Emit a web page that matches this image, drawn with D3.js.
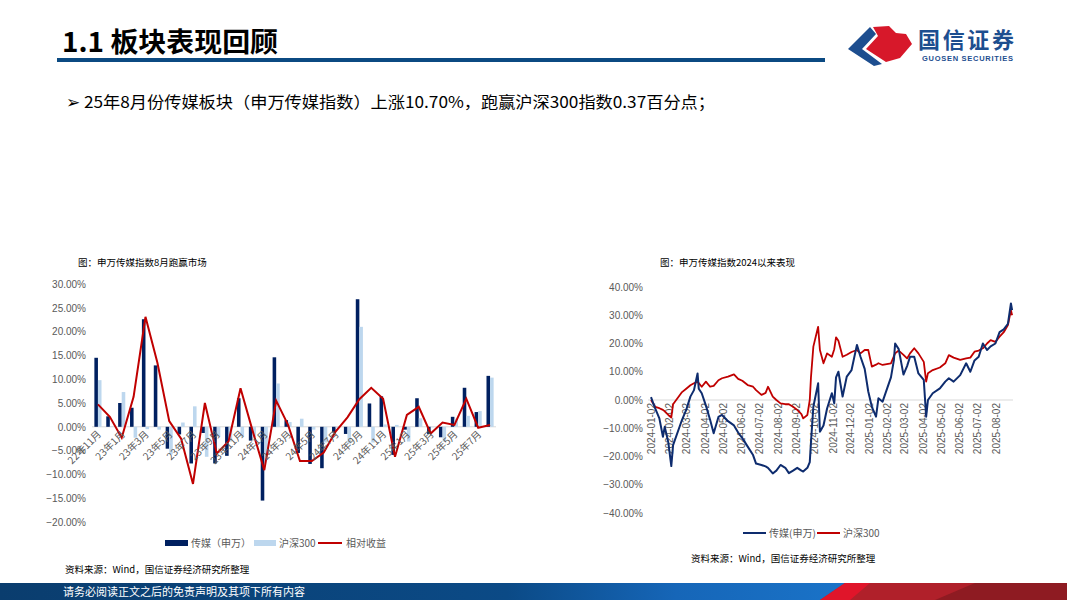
<!DOCTYPE html>
<html><head><meta charset="utf-8">
<script src="https://cdn.jsdelivr.net/npm/d3@7"></script>
<style>
body{margin:0;background:#fff}
svg{display:block}
text{font-family:"Liberation Sans","Noto Sans CJK SC",sans-serif}
.cjk{font-family:"Noto Sans CJK SC",sans-serif}
</style>
</head><body>
<svg id="c" width="1067" height="600"></svg>
<script>
// ---------- Left chart data (monthly returns, %) ----------
const months = ["22年11月","22年12月","23年1月","23年2月","23年3月","23年4月","23年5月","23年6月","23年7月","23年8月","23年9月","23年10月","23年11月","23年12月","24年1月","24年2月","24年3月","24年4月","24年5月","24年6月","24年7月","24年8月","24年9月","24年10月","24年11月","24年12月","25年1月","25年2月","25年3月","25年4月","25年5月","25年6月","25年7月","25年8月"];
const mediaMonthly = [14.5,2.2,5.0,4.0,22.6,12.9,-4.6,-1.6,-7.7,-1.3,-7.7,-6.1,6.0,-2.9,-15.5,14.6,1.4,-5.5,-7.8,-8.7,-1.2,-1.5,26.8,4.9,6.4,-5.9,-0.6,6.0,-1.5,-2.2,2.1,8.2,3.1,10.70];
const hs300Monthly = [9.8,0.1,7.3,-2.3,-0.5,-0.6,-5.8,0.9,4.3,-6.3,-2.1,-3.1,-2.1,-2.2,-6.4,9.1,1.0,1.7,-0.6,-3.3,-0.2,-3.5,21.0,-3.3,0.5,0.4,-3.1,1.8,-0.1,-3.1,1.7,2.3,3.3,10.33];
const relativeMonthly = [4.7,2.1,-2.3,6.3,23.1,13.5,1.2,-2.5,-12.0,5.0,-5.6,-3.0,8.1,-0.7,-9.1,5.5,0.4,-7.2,-7.2,-5.4,-1.0,2.0,5.8,8.2,5.9,-6.3,2.5,4.2,-1.4,0.9,0.4,5.9,-0.2,0.37];
const leftTicks = [30,25,20,15,10,5,0,-5,-10,-15,-20];

// ---------- Right chart data (cumulative since 2024, %) ----------
const perfDates = ["2024-01-02","2024-01-09","2024-01-16","2024-01-22","2024-01-25","2024-01-31","2024-02-05","2024-02-08","2024-02-23","2024-03-01","2024-03-08","2024-03-14","2024-03-20","2024-03-22","2024-03-27","2024-04-03","2024-04-10","2024-04-16","2024-04-24","2024-04-30","2024-05-10","2024-05-20","2024-05-27","2024-06-03","2024-06-12","2024-06-21","2024-06-26","2024-07-05","2024-07-12","2024-07-16","2024-07-24","2024-07-30","2024-08-06","2024-08-14","2024-08-20","2024-08-27","2024-09-03","2024-09-10","2024-09-13","2024-09-20","2024-09-24","2024-09-26","2024-09-30","2024-10-08","2024-10-11","2024-10-17","2024-10-23","2024-10-31","2024-11-04","2024-11-07","2024-11-11","2024-11-18","2024-11-25","2024-12-03","2024-12-12","2024-12-18","2024-12-25","2024-12-31","2025-01-06","2025-01-13","2025-01-17","2025-01-24","2025-02-07","2025-02-12","2025-02-14","2025-02-20","2025-02-28","2025-03-06","2025-03-11","2025-03-18","2025-03-25","2025-04-03","2025-04-07","2025-04-10","2025-04-18","2025-04-30","2025-05-09","2025-05-15","2025-05-23","2025-06-03","2025-06-13","2025-06-20","2025-06-27","2025-07-04","2025-07-11","2025-07-18","2025-07-24","2025-08-01","2025-08-08","2025-08-15","2025-08-22","2025-08-27","2025-08-29"];
const mediaPerf = [1.0,-3,-6.5,-13,-9.5,-15,-23.4,-16,-7,-3.5,1.2,3.5,9.4,4,2.4,-2,-7,-11.8,-6,-5.3,-7.5,-9,-11.5,-13.5,-16.5,-19.5,-22.5,-23,-23.5,-24,-26,-25,-23,-24,-25.9,-25,-24,-25,-25.3,-24,-22,-15,-2.4,5.9,-11.2,-9,-3,2.4,-1.2,8,10,1.2,8.3,10.6,19.5,15.3,11,3,-2.4,-5.9,0.6,-0.6,8,14.2,20,18,9,12,15.3,15.3,9.4,7.1,-5.9,0,2.4,4.1,6.5,7.7,6.5,8.8,13,10,14,15.3,20,17.7,19,20,24,25,27,34.2,31.8];
const hs300Perf = [0,-2.4,-2.9,-3.5,-4,-5.3,-6.2,-1.5,2.8,4.0,5.2,5.9,6.5,6.0,4.7,6.5,4.7,5.0,7,7.7,8.3,9.1,7.5,6.8,5.3,4.7,3.5,1.8,2.5,4.7,1.2,0,-1.2,-1.5,-1.5,-2.4,-3.5,-5.0,-6.5,-5.3,0,8,18.9,25.9,17.7,13,16.5,15.3,18,22.2,21,15.3,16,17,17.7,16.5,17.7,17.7,11.8,12.5,13,12.4,13,15.5,16.5,17.5,16,14.7,16.5,18.3,16.5,13.5,6.5,9.5,10.6,11.5,13,15.9,15,14.2,14.7,15,17.1,17.5,18.3,20,21.2,20.6,22.4,24,26.5,31.8,30.0];
const rightTicks = [40,30,20,10,0,-10,-20,-30,-40];

const svg = d3.select("#c");
const fmtPct = d => d3.format(".2f")(d) + "%";

// ---------- Header ----------
svg.append("text").attr("class","cjk").attr("x",62).attr("y",52)
  .attr("font-size",27).attr("font-weight","bold").attr("fill","#000")
  .attr("textLength",216).attr("lengthAdjust","spacingAndGlyphs").text("1.1 板块表现回顾");
svg.append("rect").attr("x",57).attr("y",58).attr("width",768).attr("height",4).attr("fill","#0B4A82");

// logo
const logo = svg.append("g");
logo.append("path").attr("d","M848,49 L870,27 L876,34 L862,49 L882,64 L874,66 Z").attr("fill","#1D4E8F");
logo.append("path").attr("d","M873,27 L889,26 L896,33 L906,34 L912,44 L900,58 L886,62 L866,49 L878,36 Z").attr("fill","#D7182A");
logo.append("text").attr("class","cjk").attr("x",918).attr("y",48).attr("font-size",22).attr("font-weight","bold").attr("fill","#1D4E8F").attr("textLength",96).text("国信证券");
logo.append("text").attr("x",922).attr("y",61).attr("font-size",7.5).attr("font-weight","bold").attr("fill","#1D4E8F").attr("textLength",91).text("GUOSEN SECURITIES");

// bullet
svg.append("text").attr("class","cjk").attr("x",66).attr("y",108).attr("font-size",17).attr("fill","#000").text("➢");
svg.append("text").attr("class","cjk").attr("x",84).attr("y",108).attr("font-size",16).attr("fill","#000")
  .attr("textLength",631).attr("lengthAdjust","spacingAndGlyphs")
  .text("25年8月份传媒板块（申万传媒指数）上涨10.70%，跑赢沪深300指数0.37百分点；");

// ---------- Left chart ----------
const L = svg.append("g");
L.append("text").attr("class","cjk").attr("x",78).attr("y",266).attr("font-size",9.5).attr("fill","#000").text("图：申万传媒指数8月跑赢市场");
const ly = d3.scaleLinear().domain([-20,30]).range([522,284]);
const lx = d3.scaleBand().domain(months).range([92,496]);
const bw = lx.bandwidth()*0.3;
L.append("g").attr("transform","translate(86,0)")
  .call(d3.axisLeft(ly).tickValues(leftTicks).tickFormat(fmtPct).tickSize(0).tickPadding(0))
  .call(g=>g.select(".domain").remove())
  .call(g=>g.selectAll("text").attr("fill","#595959").attr("font-size",10).attr("font-family","Liberation Sans"));
L.append("line").attr("x1",92).attr("x2",496).attr("y1",ly(0)).attr("y2",ly(0)).attr("stroke","#D9D9D9").attr("stroke-width",1);
const cx = m => lx(m) + lx.bandwidth()/2;
L.selectAll(".bm").data(months).join("rect")
  .attr("x",m=>cx(m)-bw).attr("width",bw)
  .attr("y",(m,i)=>ly(Math.max(0,mediaMonthly[i]))).attr("height",(m,i)=>Math.abs(ly(mediaMonthly[i])-ly(0)))
  .attr("fill","#002060");
L.selectAll(".bh").data(months).join("rect")
  .attr("x",m=>cx(m)).attr("width",bw)
  .attr("y",(m,i)=>ly(Math.max(0,hs300Monthly[i]))).attr("height",(m,i)=>Math.abs(ly(hs300Monthly[i])-ly(0)))
  .attr("fill","#BDD7EE");
L.append("path").datum(months).attr("fill","none").attr("stroke","#C00000").attr("stroke-width",2)
  .attr("d",d3.line().x(m=>cx(m)).y((m,i)=>ly(relativeMonthly[i])));
// x labels
L.selectAll(".xl").data(months.filter((m,i)=>i%2===0)).join("text")
  .attr("class","cjk")
  .attr("transform",m=>`translate(${cx(m)+4},${ly(0)+8}) rotate(-45)`)
  .attr("text-anchor","end").attr("font-size",10).attr("fill","#595959").text(m=>m);
// legend
L.append("rect").attr("x",165).attr("y",540).attr("width",23).attr("height",6).attr("fill","#002060");
L.append("text").attr("class","cjk").attr("x",191).attr("y",547).attr("font-size",10).attr("fill","#595959").text("传媒（申万）");
L.append("rect").attr("x",254).attr("y",540).attr("width",22).attr("height",6).attr("fill","#BDD7EE");
L.append("text").attr("class","cjk").attr("x",279).attr("y",547).attr("font-size",10).attr("fill","#595959").text("沪深300");
L.append("line").attr("x1",318).attr("x2",342).attr("y1",543).attr("y2",543).attr("stroke","#C00000").attr("stroke-width",2);
L.append("text").attr("class","cjk").attr("x",346).attr("y",547).attr("font-size",10).attr("fill","#595959").text("相对收益");
L.append("text").attr("class","cjk").attr("x",65).attr("y",573).attr("font-size",9.5).attr("fill","#000").text("资料来源：Wind，国信证券经济研究所整理");

// ---------- Right chart ----------
const R = svg.append("g");
R.append("text").attr("class","cjk").attr("x",660).attr("y",266).attr("font-size",9.5).attr("fill","#000").text("图：申万传媒指数2024以来表现");
const parse = d3.timeParse("%Y-%m-%d");
const rDates = perfDates.map(parse);
const rx = d3.scaleTime().domain([parse("2024-01-02"),parse("2025-08-02")]).range([651,996]);
const ry = d3.scaleLinear().domain([-40,40]).range([513,287]);
R.append("g").attr("transform","translate(643,0)")
  .call(d3.axisLeft(ry).tickValues(rightTicks).tickFormat(fmtPct).tickSize(0).tickPadding(0))
  .call(g=>g.select(".domain").remove())
  .call(g=>g.selectAll("text").attr("fill","#595959").attr("font-size",10).attr("font-family","Liberation Sans"));
R.append("line").attr("x1",648).attr("x2",1013).attr("y1",ry(0)).attr("y2",ry(0)).attr("stroke","#D9D9D9");
const monthTicks = d3.timeMonth.range(parse("2024-01-01"),parse("2025-08-03")).map(d=>d3.timeDay.offset(d,1));
R.selectAll(".rxl").data(monthTicks).join("text")
  .attr("transform",d=>`translate(${rx(d)},${ry(0)+3}) rotate(-90)`)
  .attr("text-anchor","end").attr("dy","0.35em").attr("font-size",10).attr("fill","#595959")
  .text(d3.timeFormat("%Y-%m-%d"));
const rline = arr => d3.line().x((d,i)=>rx(rDates[i])).y((d,i)=>ry(arr[i]));
R.append("path").datum(hs300Perf).attr("fill","none").attr("stroke","#C00000").attr("stroke-width",1.8).attr("stroke-linejoin","round").attr("d",rline(hs300Perf));
R.append("path").datum(mediaPerf).attr("fill","none").attr("stroke","#0E2C6E").attr("stroke-width",2).attr("stroke-linejoin","round").attr("d",rline(mediaPerf));
// legend
R.append("line").attr("x1",743).attr("x2",766).attr("y1",533).attr("y2",533).attr("stroke","#0E2C6E").attr("stroke-width",2);
R.append("text").attr("class","cjk").attr("x",769).attr("y",537).attr("font-size",10).attr("fill","#595959").text("传媒(申万)");
R.append("line").attr("x1",817).attr("x2",840).attr("y1",533).attr("y2",533).attr("stroke","#C00000").attr("stroke-width",2);
R.append("text").attr("class","cjk").attr("x",843).attr("y",537).attr("font-size",10).attr("fill","#595959").text("沪深300");
R.append("text").attr("class","cjk").attr("x",691).attr("y",562).attr("font-size",9.5).attr("fill","#000").text("资料来源：Wind，国信证券经济研究所整理");

// ---------- Footer ----------
const defs = svg.append("defs");
const gr = defs.append("linearGradient").attr("id","fg").attr("x1","0").attr("x2","1");
gr.append("stop").attr("offset","0").attr("stop-color","#0A3D6E");
gr.append("stop").attr("offset","0.6").attr("stop-color","#0B4A86");
gr.append("stop").attr("offset","0.8").attr("stop-color","#1666B8");
gr.append("stop").attr("offset","1").attr("stop-color","#1A73C8");
svg.append("rect").attr("x",0).attr("y",583).attr("width",845).attr("height",17).attr("fill","url(#fg)");
svg.append("path").attr("d","M820,600 L845,583 L1067,583 L1067,600 Z").attr("fill","#B0202A");
svg.append("path").attr("d","M820,600 L845,583 L870,583 L850,600 Z").attr("fill","#E0152A");
svg.append("path").attr("d","M935,600 L975,583 L1067,583 L1067,600 Z").attr("fill","#8E1B22");
svg.append("text").attr("class","cjk").attr("x",63).attr("y",596).attr("font-size",11).attr("fill","#fff").text("请务必阅读正文之后的免责声明及其项下所有内容");
</script>
</body></html>
